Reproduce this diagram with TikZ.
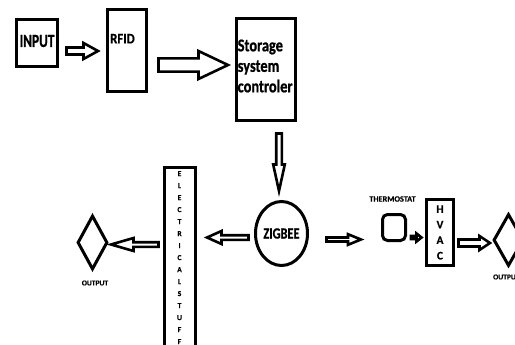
\documentclass[tikz,border=0pt]{standalone}
\usepackage{fontspec}
\setmainfont{Carlito-Bold.ttf}[FakeBold=0.4]
\newfontfamily\cbs{Carlito-Bold.ttf}[FakeStretch=0.8, FakeBold=0.8]
\newfontfamily\cbsa{Carlito-Bold.ttf}[FakeStretch=0.72, FakeBold=0.8]
\newfontfamily\cbsb{Carlito-Bold.ttf}[FakeStretch=0.88, FakeBold=0.8]
\usetikzlibrary{calc,shapes.geometric}
\newcommand\blkarrow[5]{%
  \coordinate (hb) at ($(#2)!#5!(#1)$);
  \draw[blk] ($(#1)!#3!90:(#2)$) -- ($(hb)!#3!-90:(#1)$) -- ($(hb)!#4!-90:(#1)$)
    -- (#2) -- ($(hb)!#4!90:(#1)$) -- ($(hb)!#3!90:(#1)$) -- ($(#1)!#3!-90:(#2)$) -- cycle;}
\begin{document}
\begin{tikzpicture}[x=1pt,y=-1pt,
  box/.style={draw, line width=3pt, rectangle, inner sep=0pt, line join=miter},
  blk/.style={draw, line width=2.6pt, line join=miter, fill=white},
  smalltxt/.style={font=\fontsize{7.5}{9}\selectfont, inner sep=0pt}]
\useasboundingbox (0,0) rectangle (515,345);
\clip (0,0) rectangle (515,345);
\fill[white] (0,0) rectangle (515,345);
% top row
\node[box, font=\cbsa\fontsize{18.5}{20}\selectfont, minimum width=41pt, minimum height=47pt] (input) at (36.5,43) {};
\node[font=\cbsa\fontsize{18.5}{20}\selectfont, inner sep=0pt, anchor=west] (inputt) at (19.5,41) {INPUT};
\node[box, minimum width=39pt, minimum height=82pt] (rfid) at (127,50.5) {};
\node[font=\cbsb\fontsize{14.5}{18}\selectfont, anchor=west, inner sep=0pt] (rfidt) at (110,38.7) {RFID};
\node[box, line width=3.5pt, minimum width=59pt, minimum height=102pt] (storage) at (266,69.5) {};
\node[font=\cbs\fontsize{18}{20.5}\selectfont, anchor=west, align=left, inner sep=0pt] (storaget) at (237.5,66) {Storage\\system\\controler};
% middle
\node[draw, ellipse, line width=3pt, inner sep=0pt, minimum width=52pt, minimum height=64pt,
      font=\cbs\fontsize{15.5}{18}\selectfont] (zigbee) at (281.5,233.5) {ZIGBEE};
\node[box, minimum width=31pt, minimum height=191pt] (elec) at (179.5,263) {};
\node[font=\fontsize{7.5}{12}\selectfont, align=center, anchor=north, inner sep=0pt] (elect) at (179.5,171)
  {E\\L\\E\\C\\T\\R\\I\\C\\A\\L\\S\\T\\U\\F\\F};
\node[draw, diamond, line width=3pt, line join=miter, inner sep=0pt, minimum width=30pt, minimum height=54pt] (outl) at (92.5,242.5) {};
\node[smalltxt] (outlt) at (95,283) {OUTPUT};
% right
\node[draw, line width=3pt, rounded corners=5pt, minimum width=23pt, minimum height=26pt, inner sep=0pt] (thermo) at (394,227.5) {};
\node[smalltxt, font=\fontsize{8.2}{10}\selectfont] (thermot) at (392.5,199) {THERMOSTAT};
\node[box, minimum width=27pt, minimum height=66pt, align=center, font=\fontsize{11.5}{15.5}\selectfont] (hvac) at (440,232.5) {H\\V\\A\\C};
\node[draw, diamond, line width=3pt, line join=miter, inner sep=0pt, minimum width=30pt, minimum height=52pt] (outr) at (508.5,240) {};
\node[smalltxt, anchor=west] (outrt) at (493,277) {OUTPUT};
% arrow end points
\coordinate (a1s) at (66.5,51);  \coordinate (a1t) at (98,51);
\coordinate (a2s) at (158.5,65); \coordinate (a2t) at (228,65);
\coordinate (a3s) at (279,133.5); \coordinate (a3t) at (279,191);
\coordinate (a4s) at (248.5,237.5); \coordinate (a4t) at (207,237.5);
\coordinate (a5s) at (158.5,244.5); \coordinate (a5t) at (111,244.5);
\coordinate (a6s) at (326.5,239.5); \coordinate (a6t) at (361,239.5);
\coordinate (a7s) at (411,237.5); \coordinate (a7t) at (421.5,237.5);
\coordinate (a8s) at (458.5,243); \coordinate (a8t) at (490,243);
\blkarrow{a1s}{a1t}{3.5pt}{8pt}{14.5pt}
\blkarrow{a2s}{a2t}{6.6pt}{14pt}{29.5pt}
\blkarrow{a3s}{a3t}{2.8pt}{5.8pt}{26.5pt}
\blkarrow{a4s}{a4t}{2.3pt}{6.5pt}{14.5pt}
\blkarrow{a5s}{a5t}{2.3pt}{6.5pt}{22.5pt}
\blkarrow{a6s}{a6t}{2pt}{5.3pt}{13pt}
\blkarrow{a7s}{a7t}{1.5pt}{4pt}{5pt}
\blkarrow{a8s}{a8t}{3.5pt}{7pt}{10.5pt}
\end{tikzpicture}
\end{document}
